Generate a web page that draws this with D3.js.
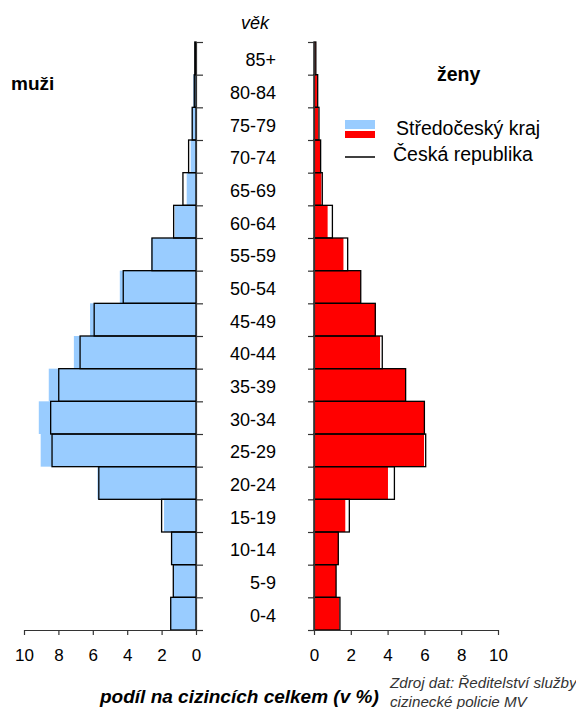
<!DOCTYPE html>
<html>
<head>
<meta charset="utf-8">
<script src="https://cdn.jsdelivr.net/npm/d3@7"></script>
<style>
  body { margin: 0; background: #fff; }
  svg { font-family: "Liberation Sans", Arial, sans-serif; }
</style>
</head>
<body>
<svg id="chart" width="576" height="709"></svg>
<script>
// vekove skupiny, od nejmladsi
var ages = ["0-4", "5-9", "10-14", "15-19", "20-24", "25-29", "30-34", "35-39", "40-44",
            "45-49", "50-54", "55-59", "60-64", "65-69", "70-74", "75-79", "80-84", "85+"];

// podil na cizincich celkem (v %)
var muziKraj = [1.47, 1.32, 1.42, 1.86, 5.73, 9.03, 9.14, 8.56, 7.10, 6.16, 4.43, 2.60, 1.24, 0.54, 0.31, 0.25, 0.16, 0.08];
var muziCR   = [1.47, 1.32, 1.42, 2.00, 5.65, 8.37, 8.45, 7.98, 6.74, 5.92, 4.23, 2.56, 1.30, 0.76, 0.43, 0.22, 0.10, 0.07];
var zenyKraj = [1.38, 1.20, 1.32, 1.70, 4.02, 5.98, 6.00, 4.98, 3.59, 3.37, 2.54, 1.60, 0.74, 0.40, 0.33, 0.23, 0.16, 0.09];
var zenyCR   = [1.41, 1.20, 1.32, 1.92, 4.37, 6.07, 6.00, 4.98, 3.71, 3.33, 2.54, 1.83, 1.00, 0.45, 0.36, 0.27, 0.20, 0.10];

var xTicks = [0, 2, 4, 6, 8, 10];

var svg = d3.select("#chart");

var xL = d3.scaleLinear().domain([0, 10]).range([196, 24]);
var xR = d3.scaleLinear().domain([0, 10]).range([314, 498]);
var y = d3.scaleBand().domain(ages.slice().reverse()).range([42, 630]).padding(0);
var yIdx = d3.scaleLinear().domain([0, ages.length]).range([630, 42]);

function rows(vals) {
    return ages.map(function (a, i) { return { age: a, v: vals[i] }; });
}

// muzi - kraj
svg.append("g").selectAll("rect")
   .data(rows(muziKraj)).enter().append("rect")
   .attr("x", function (d) { return xL(d.v); })
   .attr("y", function (d) { return y(d.age); })
   .attr("width", function (d) { return xL(0) - xL(d.v); })
   .attr("height", y.bandwidth())
   .attr("fill", "#99ccff");

// zeny - kraj
svg.append("g").selectAll("rect")
   .data(rows(zenyKraj)).enter().append("rect")
   .attr("x", xR(0))
   .attr("y", function (d) { return y(d.age); })
   .attr("width", function (d) { return xR(d.v) - xR(0); })
   .attr("height", y.bandwidth())
   .attr("fill", "#ff0000");

// CR obrysy
svg.append("g").selectAll("rect")
   .data(rows(muziCR)).enter().append("rect")
   .attr("x", function (d) { return xL(d.v); })
   .attr("y", function (d) { return y(d.age); })
   .attr("width", function (d) { return xL(0) - xL(d.v); })
   .attr("height", y.bandwidth())
   .attr("fill", "none")
   .attr("stroke", "#000")
   .attr("stroke-width", 1.3);

svg.append("g").selectAll("rect")
   .data(rows(zenyCR)).enter().append("rect")
   .attr("x", xR(0))
   .attr("y", function (d) { return y(d.age); })
   .attr("width", function (d) { return xR(d.v) - xR(0); })
   .attr("height", y.bandwidth())
   .attr("fill", "none")
   .attr("stroke", "#000")
   .attr("stroke-width", 1.3);

// svisle osy
svg.append("g")
   .attr("transform", "translate(" + xL(0) + ",0)")
   .call(d3.axisRight(yIdx).ticks(ages.length).tickSize(7).tickSizeOuter(0).tickFormat(""));
svg.append("g")
   .attr("transform", "translate(" + xR(0) + ",0)")
   .call(d3.axisLeft(yIdx).ticks(ages.length).tickSize(6).tickSizeOuter(0).tickFormat(""));

// vodorovne osy
var bxL = svg.append("g")
   .attr("transform", "translate(0,630)")
   .call(d3.axisBottom(xL).tickValues(xTicks).tickSize(5).tickSizeOuter(0).tickPadding(14));
var bxR = svg.append("g")
   .attr("transform", "translate(0,630)")
   .call(d3.axisBottom(xR).tickValues(xTicks).tickSize(5).tickSizeOuter(0).tickPadding(14));

svg.selectAll(".domain, .tick line").attr("stroke", "#333").attr("stroke-width", 1.2);
[bxL, bxR].forEach(function (g) {
    g.selectAll("text")
     .attr("font-family", "Liberation Sans, Arial, sans-serif")
     .attr("font-size", 17)
     .attr("fill", "#000");
});

// popisky vekovych skupin
svg.append("g").selectAll("text")
   .data(ages).enter().append("text")
   .attr("x", 276)
   .attr("y", function (d) { return y(d) + y.bandwidth() / 2; })
   .attr("dy", "0.45em")
   .attr("text-anchor", "end")
   .attr("font-size", 18)
   .text(function (d) { return d; });

svg.append("text")
   .attr("x", 255).attr("y", 29)
   .attr("text-anchor", "middle")
   .attr("font-size", 18).attr("font-style", "italic")
   .text("věk");

svg.append("text")
   .attr("x", 11).attr("y", 90)
   .attr("font-size", 19).attr("font-weight", "bold")
   .text("muži");

svg.append("text")
   .attr("x", 437).attr("y", 81)
   .attr("font-size", 19.5).attr("font-weight", "bold")
   .text("ženy");

// legenda
var leg = svg.append("g");
leg.append("rect").attr("x", 345).attr("y", 120).attr("width", 30).attr("height", 9).attr("fill", "#99ccff");
leg.append("rect").attr("x", 345).attr("y", 131).attr("width", 30).attr("height", 7).attr("fill", "#ff0000");
leg.append("line").attr("x1", 345).attr("x2", 375).attr("y1", 157).attr("y2", 157)
   .attr("stroke", "#000").attr("stroke-width", 1.5);
leg.append("text").attr("x", 396).attr("y", 135).attr("font-size", 19.5).text("Středočeský kraj");
leg.append("text").attr("x", 393).attr("y", 161).attr("font-size", 19.5).text("Česká republika");

// popis osy a zdroj
svg.append("text")
   .attr("x", 100).attr("y", 703)
   .attr("font-size", 19).attr("font-weight", "bold").attr("font-style", "italic")
   .text("podíl na cizincích celkem (v %)");

var src = svg.append("text")
   .attr("font-family", "Liberation Sans Narrow, Arial Narrow, sans-serif")
   .attr("font-size", 15.2).attr("font-style", "italic").attr("fill", "#333");
src.append("tspan").attr("x", 390).attr("y", 688).text("Zdroj dat: Ředitelství služby");
src.append("tspan").attr("x", 390).attr("y", 707).text("cizinecké policie MV");
</script>
</body>
</html>
